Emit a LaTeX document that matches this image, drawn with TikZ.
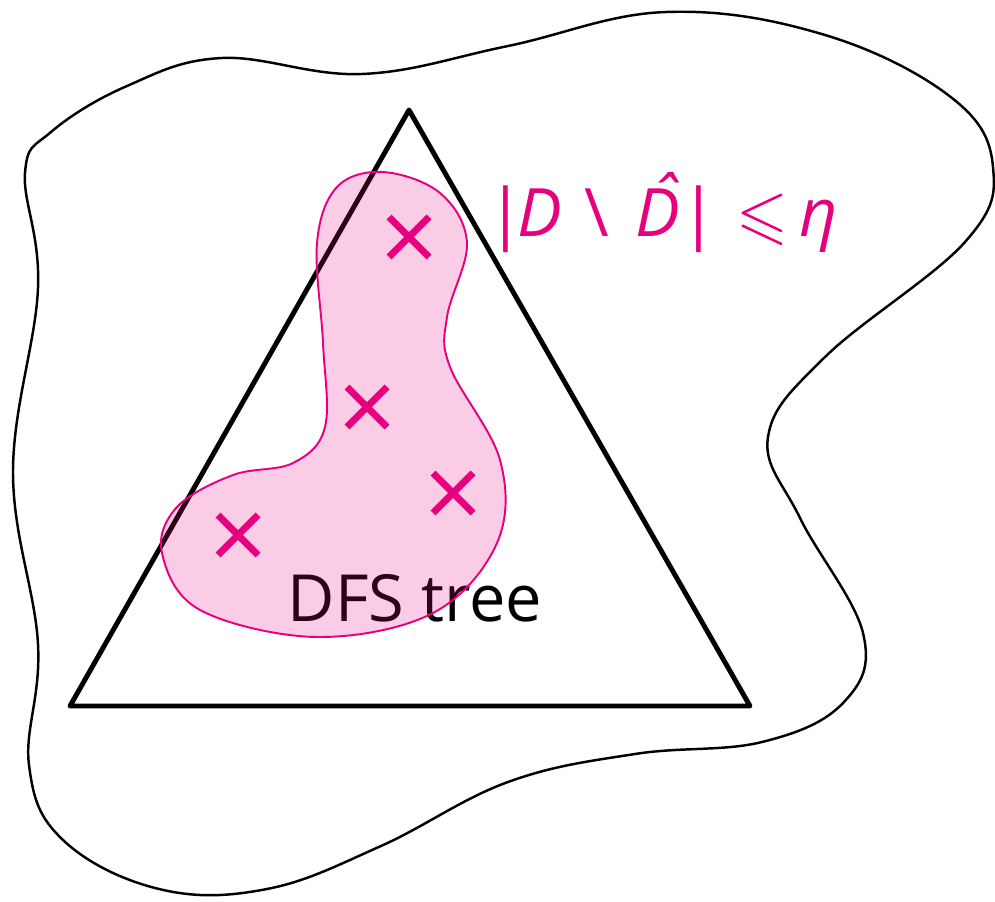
\documentclass[tikz,border=0pt]{standalone}
\usepackage{amssymb}
\usepackage{fontspec}
\setmainfont{Open Sans}
\usepackage{xcolor}
\usepackage{tikz}
\usetikzlibrary{positioning}
\definecolor{magenta}{RGB}{230,0,126}

\begin{document}
\begin{tikzpicture}[
    x=0.02cm, y=-0.02cm,
    contorno/.style={line width=1.4pt, black},
    albero/.style={line width=2.8pt, black, line join=round, line cap=round},
    regione/.style={line width=1.1pt, magenta},
    croce/.style={line width=4pt, magenta}
]
    \useasboundingbox (0,0) rectangle (995,902);

    % Grafo (bordo esterno)
    \draw[contorno] plot[smooth cycle, tension=0.65] coordinates {
        (25,173) (51,132) (127,86) (222,58) (362,74) (508,46) (666,12)
        (825,35) (952,98) (993,167) (965,242) (825,357) (768,437) (800,518)
        (863,633) (844,702) (762,742) (635,754) (508,782) (381,846)
        (267,889) (159,889) (63,840) (29,765) (38,644) (13,472) (38,288)};

    % Albero DFS
    \coordinate (T_top) at (409,110);
    \coordinate (T_left) at (70,706);
    \coordinate (T_right) at (750,706);
    \draw[albero] (T_top) -- (T_left) -- (T_right) -- cycle;
    \node[anchor=base, inner sep=0pt, font=\fontsize{37}{44}\selectfont] (dfs) at (415,622) {DFS tree};

    % Regione D \ \hat D
    \fill[magenta, fill opacity=0.2] plot[smooth cycle, tension=0.6] coordinates {
        (383,172) (337,187) (317,243) (323,343) (325,427) (293,463)
        (233,475) (177,507) (162,553) (200,610) (317,637) (433,613)
        (497,543) (500,460) (450,367) (447,317) (467,243) (440,193)};
    \draw[regione] plot[smooth cycle, tension=0.6] coordinates {
        (383,172) (337,187) (317,243) (323,343) (325,427) (293,463)
        (233,475) (177,507) (162,553) (200,610) (317,637) (433,613)
        (497,543) (500,460) (450,367) (447,317) (467,243) (440,193)};

    % Vertici
    \foreach \px/\py in {409/237, 367/407, 453/493, 238/535} {
        \draw[croce] (\px-20,\py-20) -- (\px+20,\py+20);
        \draw[croce] (\px-20,\py+20) -- (\px+20,\py-20);
    }

    % Etichetta
    \node[anchor=base west, inner sep=0pt, text=magenta, font=\fontsize{38}{46}\selectfont] (bound) at (487,237)
        {|\kern-0.1em\textit{D}\kern0.33em\textbackslash\kern0.41em\textit{D\llap{\raisebox{0.2em}{ˆ}\kern0.05em}}|\kern0.29em$\leqslant$\kern0.17em\textit{η}};

\end{tikzpicture}
\end{document}
